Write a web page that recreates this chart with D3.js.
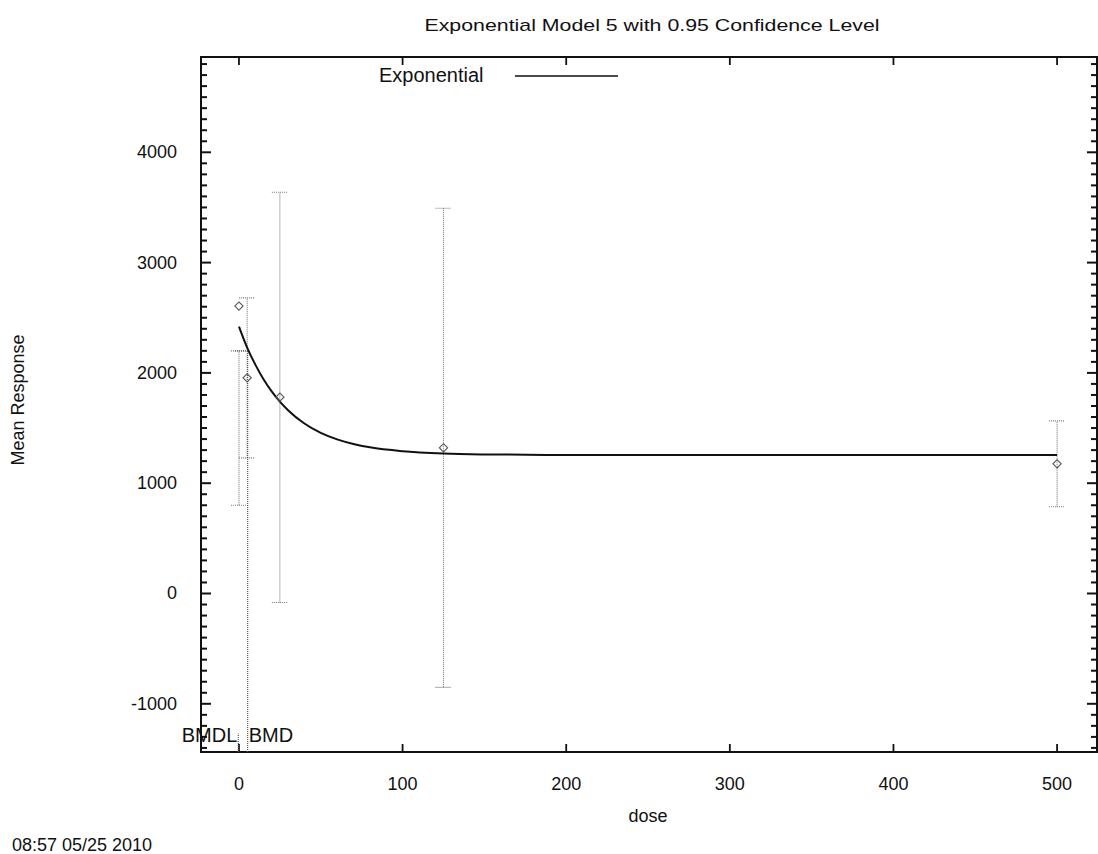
<!DOCTYPE html>
<html>
<head>
<meta charset="utf-8">
<script src="https://cdn.jsdelivr.net/npm/d3@7"></script>
<style>
  html, body { margin: 0; padding: 0; background: #fff; }
  svg text { font-family: "Liberation Sans", Arial, sans-serif; fill: #111; }
</style>
</head>
<body>
<svg id="chart" width="1098" height="854"></svg>
<script>
// ---- data ----
const doses = [0, 5, 25, 125, 500];
const means = [2606, 1955, 1780, 1321, 1176];
const errLow = [800, 1230, -81, -851, 787];
const errHigh = [2200, 2680, 3638, 3493, 1565];

const curveDose = [0, 5, 10, 15, 20, 25, 30, 40, 50, 60, 70, 80, 100, 125, 150, 200, 300, 400, 500];
const curveResp = [2420, 2230, 2075, 1943, 1833, 1740, 1662, 1541, 1456, 1397, 1355, 1325, 1290, 1269, 1261, 1256, 1255, 1255, 1255];

const bmd = 5.3, bmdl = -0.4, bmrResp = 2200;

const xTicks = [0, 100, 200, 300, 400, 500];
const yTicks = [-1000, 0, 1000, 2000, 3000, 4000];
const yMinor = [-1400, -1300, -1200, -1100, -900, -800, -700, -600, -500, -400, -300, -200, -100,
  100, 200, 300, 400, 500, 600, 700, 800, 900, 1100, 1200, 1300, 1400, 1500, 1600, 1700, 1800, 1900,
  2100, 2200, 2300, 2400, 2500, 2600, 2700, 2800, 2900, 3100, 3200, 3300, 3400, 3500, 3600, 3700, 3800, 3900,
  4100, 4200, 4300, 4400, 4500, 4600, 4700, 4800];

const titleText = "Exponential Model 5 with 0.95 Confidence Level";
const legendText = "Exponential";
const xLabel = "dose";
const yLabel = "Mean Response";
const stamp = "08:57 05/25 2010";

// ---- layout ----
const L = 201, R = 1097, T = 57, B = 752;
const svg = d3.select("#chart");
const x = d3.scaleLinear().domain([-23.2, 524.4]).range([L, R]);
const y = d3.scaleLinear().domain([-1437, 4864]).range([B, T]);

// frame
svg.append("rect").attr("x", L).attr("y", T).attr("width", R - L).attr("height", B - T)
  .attr("fill", "none").attr("stroke", "#111").attr("stroke-width", 2);

// y ticks (minor + major), left and right, inward
function yTickLines(vals, len, cls) {
  svg.selectAll("line." + cls + "L").data(vals).enter().append("line")
    .attr("class", cls + "L")
    .attr("x1", L).attr("x2", L + len)
    .attr("y1", d => y(d)).attr("y2", d => y(d))
    .style("stroke", "#111").style("stroke-width", "2px");
  svg.selectAll("line." + cls + "R").data(vals).enter().append("line")
    .attr("class", cls + "R")
    .attr("x1", R).attr("x2", R - len)
    .attr("y1", d => y(d)).attr("y2", d => y(d))
    .style("stroke", "#111").style("stroke-width", "2px");
}
yTickLines(yMinor, 6, "ymin");
yTickLines(yTicks, 10, "ymaj");
// x ticks bottom and top, inward
svg.selectAll("line.xb").data(xTicks).enter().append("line").attr("class", "xb")
  .attr("x1", d => x(d)).attr("x2", d => x(d)).attr("y1", B).attr("y2", B - 8)
  .style("stroke", "#111").style("stroke-width", "1.8px");
svg.selectAll("line.xt").data(xTicks).enter().append("line").attr("class", "xt")
  .attr("x1", d => x(d)).attr("x2", d => x(d)).attr("y1", T).attr("y2", T + 8)
  .style("stroke", "#111").style("stroke-width", "1.8px");

// tick labels
svg.append("g").selectAll("text").data(yTicks).join("text")
  .attr("x", L - 24).attr("y", d => y(d) + 6)
  .attr("text-anchor", "end").attr("font-size", 18).text(d => d);
svg.append("g").selectAll("text").data(xTicks).join("text")
  .attr("x", d => x(d)).attr("y", 790)
  .attr("text-anchor", "middle").attr("font-size", 18).text(d => d);

// labels
svg.append("text").attr("x", 652).attr("y", 31).attr("text-anchor", "middle")
  .attr("font-size", 17).attr("textLength", 455).attr("lengthAdjust", "spacingAndGlyphs").text(titleText);
svg.append("text").attr("x", 648).attr("y", 822).attr("text-anchor", "middle")
  .attr("font-size", 18).text(xLabel);
svg.append("text").attr("transform", "translate(24,400) rotate(-90)").attr("text-anchor", "middle")
  .attr("font-size", 18).text(yLabel);
svg.append("text").attr("x", 12).attr("y", 851).attr("font-size", 18).text(stamp);

// legend
svg.append("text").attr("x", 379).attr("y", 82).attr("font-size", 20).text(legendText);
svg.append("line").attr("x1", 515).attr("x2", 618).attr("y1", 76).attr("y2", 76)
  .attr("stroke", "#111").attr("stroke-width", 1.5);

// error bars (dotted)
const eb = svg.append("g").attr("stroke", "#777").attr("stroke-width", 1.1).attr("stroke-dasharray", "1,1").attr("fill", "none");
doses.forEach((d, i) => {
  const lo = Math.max(errLow[i], y.domain()[0]);
  eb.append("line").attr("x1", x(d)).attr("x2", x(d)).attr("y1", y(lo)).attr("y2", y(errHigh[i]));
  [errLow[i], errHigh[i]].forEach(v => {
    if (v >= y.domain()[0]) {
      eb.append("line").attr("x1", x(d) - 8).attr("x2", x(d) + 8).attr("y1", y(v)).attr("y2", y(v));
    }
  });
});

// BMD / BMDL lines
const bl = svg.append("g").attr("stroke", "#555").attr("stroke-width", 1.2).attr("stroke-dasharray", "1,1");
bl.append("line").attr("x1", x(bmd)).attr("x2", x(bmd)).attr("y1", y(y.domain()[0])).attr("y2", y(bmrResp));
bl.append("line").attr("x1", x(-2.5)).attr("x2", x(bmd)).attr("y1", y(bmrResp)).attr("y2", y(bmrResp));
bl.append("line").attr("x1", x(bmdl)).attr("x2", x(bmdl)).attr("y1", y(y.domain()[0])).attr("y2", y(-1270));

svg.append("text").attr("x", x(bmdl) - 1).attr("y", 742).attr("text-anchor", "end").attr("font-size", 20).text("BMDL");
svg.append("text").attr("x", x(bmd) + 1).attr("y", 742).attr("font-size", 20).text("BMD");

// fitted curve
const pts = curveDose.map((d, i) => [d, curveResp[i]]);
svg.append("path").datum(pts)
  .attr("fill", "none").attr("stroke", "#111").attr("stroke-width", 2)
  .attr("d", d3.line().x(p => x(p[0])).y(p => y(p[1])).curve(d3.curveMonotoneX));

// mean markers (diamonds)
svg.append("g").selectAll("path").data(doses).join("path")
  .attr("transform", (d, i) => `translate(${x(d)},${y(means[i])}) rotate(45)`)
  .attr("d", d3.symbol().type(d3.symbolSquare).size(34))
  .attr("fill", "none").attr("stroke", "#555").attr("stroke-width", 1.1);
</script>
</body>
</html>
